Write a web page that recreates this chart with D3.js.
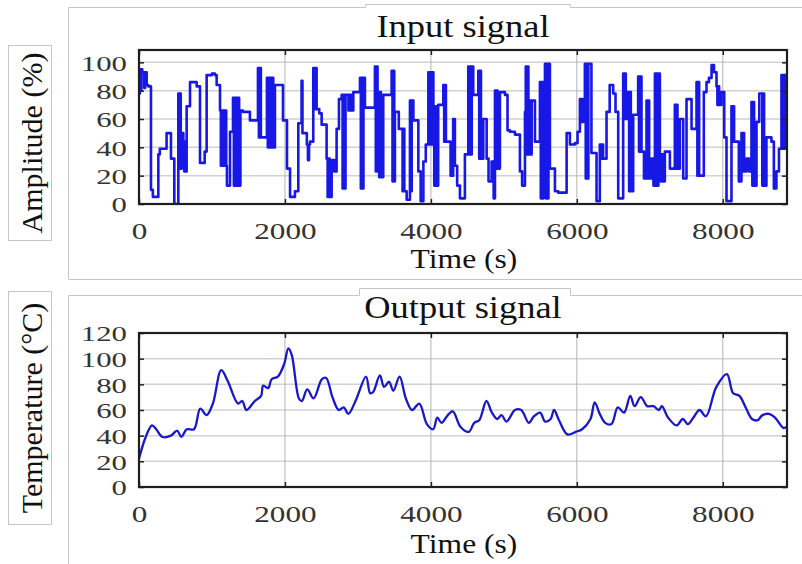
<!DOCTYPE html>
<html>
<head>
<meta charset="utf-8">
<script src="https://cdn.jsdelivr.net/npm/d3@7"></script>
<style>
  html, body { margin: 0; padding: 0; background: #fff; }
  svg { display: block; }
</style>
</head>
<body>
<div id="chart"></div>
<script>
// ---- data ----
const xTicks = [0, 2000, 4000, 6000, 8000];
const inputYTicks = [0, 20, 40, 60, 80, 100];
const outputYTicks = [0, 20, 40, 60, 80, 100, 120];

// input signal: step times (s) and amplitude (%) held until next step
const inputTimes = [0, 12, 22, 32, 45, 70, 85, 105, 128, 164, 190, 265, 285, 378, 438, 484, 539, 550, 560, 572,
  585, 608, 620, 632, 645, 653, 699, 790, 836, 900, 927, 1000, 1040, 1064, 1110, 1122, 1134, 1146, 1158, 1170,
  1182, 1195, 1205, 1247, 1288, 1300, 1312, 1324, 1336, 1348, 1360, 1372, 1390, 1425, 1520, 1630, 1643, 1656, 1670, 1753,
  1765, 1778, 1790, 1803, 1815, 1828, 1840, 1863, 1973, 2028, 2070, 2137, 2183, 2228, 2240, 2300, 2315, 2330, 2343, 2388,
  2400, 2412, 2434, 2470, 2503, 2571, 2585, 2598, 2612, 2640, 2675, 2708, 2740, 2777, 2790, 2803, 2816, 2830, 2870, 2885,
  2910, 2937, 3028, 3040, 3052, 3064, 3076, 3096, 3233, 3245, 3257, 3269, 3279, 3291, 3303, 3315, 3347, 3462, 3474, 3486,
  3498, 3507, 3560, 3612, 3624, 3636, 3668, 3713, 3725, 3737, 3760, 3828, 3860, 3897, 3930, 3965, 3977, 3990, 4002, 4015,
  4034, 4046, 4058, 4070, 4100, 4170, 4182, 4194, 4206, 4270, 4305, 4329, 4360, 4398, 4466, 4512, 4524, 4536, 4548, 4560,
  4580, 4650, 4662, 4674, 4686, 4718, 4764, 4790, 4832, 4860, 4878, 4890, 4902, 4914, 4946, 5015, 5050, 5083, 5152, 5220,
  5250, 5289, 5300, 5312, 5324, 5336, 5357, 5369, 5381, 5426, 5494, 5506, 5518, 5530, 5542, 5563, 5575, 5587, 5599, 5611,
  5631, 5700, 5745, 5860, 5905, 5974, 6010, 6042, 6054, 6066, 6078, 6110, 6122, 6134, 6146, 6158, 6200, 6270, 6315, 6330,
  6345, 6360, 6407, 6450, 6498, 6530, 6567, 6635, 6647, 6659, 6671, 6704, 6716, 6728, 6740, 6772, 6840, 6852, 6864, 6886,
  6920, 6955, 6967, 6979, 6991, 7023, 7050, 7070, 7082, 7094, 7106, 7118, 7138, 7150, 7162, 7174, 7206, 7275, 7343, 7355,
  7367, 7379, 7412, 7458, 7503, 7572, 7640, 7652, 7664, 7676, 7740, 7777, 7810, 7846, 7880, 7914, 7926, 7938, 7950, 7983,
  8020, 8051, 8119, 8131, 8143, 8155, 8220, 8256, 8268, 8280, 8292, 8325, 8360, 8393, 8405, 8417, 8429, 8462, 8500, 8542,
  8554, 8566, 8598, 8667, 8700, 8735, 8770, 8804, 8816, 8828, 8840, 8852, 8880];
const inputAmps = [78, 95, 80, 95, 93, 82, 93, 84, 83, 10, 5, 35, 39, 50, 32, 0, 78, 25, 78, 25,
  50, 44, 23, 44, 23, 69, 86, 83, 29, 37, 91, 92, 91, 84, 66, 27, 66, 27, 66, 27,
  66, 27, 13, 51, 75, 13, 75, 13, 75, 13, 75, 13, 66, 65, 59, 96, 47, 96, 47, 89,
  40, 89, 40, 89, 40, 89, 40, 84, 59, 25, 5, 9, 57, 87, 50, 42, 31, 42, 44, 96,
  67, 96, 67, 64, 56, 32, 5, 32, 5, 31, 23, 53, 74, 77, 11, 77, 11, 77, 66, 77,
  66, 79, 89, 11, 89, 11, 89, 68, 97, 23, 97, 23, 79, 19, 79, 19, 77, 94, 16, 94,
  16, 65, 53, 9, 53, 9, 3, 73, 9, 73, 59, 23, 2, 30, 42, 93, 42, 93, 42, 93,
  69, 13, 69, 13, 70, 84, 44, 84, 44, 20, 60, 27, 13, 4, 35, 97, 35, 97, 35, 97,
  77, 94, 32, 94, 32, 60, 32, 16, 30, 4, 80, 25, 80, 25, 79, 77, 52, 51, 49, 23,
  13, 65, 97, 35, 97, 35, 73, 35, 73, 44, 86, 4, 86, 4, 86, 99, 4, 99, 4, 99,
  25, 9, 8, 50, 42, 43, 51, 74, 58, 74, 58, 99, 18, 99, 18, 99, 36, 2, 42, 32,
  42, 32, 65, 84, 78, 65, 4, 92, 60, 92, 60, 79, 9, 79, 9, 63, 90, 37, 90, 37,
  18, 73, 18, 73, 18, 32, 13, 92, 13, 92, 13, 92, 35, 16, 35, 16, 37, 25, 70, 25,
  70, 25, 60, 18, 74, 53, 86, 20, 86, 20, 79, 86, 89, 98, 93, 83, 70, 83, 70, 79,
  47, 2, 69, 44, 69, 44, 16, 50, 23, 50, 23, 32, 23, 72, 13, 72, 13, 58, 78, 13,
  78, 13, 47, 44, 11, 23, 39, 91, 39, 91, 39, 91, 91];

// output signal: time (s) and temperature (°C)
const outputTimes = [0, 92, 178, 236, 322, 437, 523, 580, 655, 753, 840, 926, 1012, 1127, 1213, 1357, 1415, 1472, 1587, 1673,
  1702, 1771, 1817, 1903, 1990, 2047, 2093, 2191, 2231, 2306, 2392, 2507, 2565, 2651, 2737, 2806, 2869, 2967, 3111, 3168,
  3209, 3301, 3358, 3427, 3485, 3571, 3657, 3743, 3841, 3945, 4031, 4088, 4146, 4232, 4301, 4404, 4519, 4594, 4663, 4761,
  4836, 4910, 4968, 5037, 5152, 5238, 5342, 5411, 5497, 5566, 5641, 5687, 5756, 5871, 5986, 6072, 6187, 6245, 6314, 6388,
  6475, 6561, 6647, 6733, 6791, 6877, 6964, 7050, 7124, 7165, 7251, 7366, 7452, 7521, 7596, 7682, 7768, 7912, 8056, 8142,
  8228, 8314, 8401, 8475, 8544, 8631, 8717, 8832, 8880];
const outputTemps = [22, 39, 48, 45, 39, 40, 44, 39, 45, 45, 61, 56, 65, 91, 83, 65, 67, 60, 67, 71,
  79, 77, 84, 86, 96, 108, 103, 69, 67, 76, 69, 84, 85, 70, 60, 62, 57, 67, 86, 73,
  74, 87, 78, 82, 75, 86, 69, 60, 65, 49, 45, 54, 50, 56, 59, 47, 43, 50, 52, 67,
  58, 53, 56, 51, 60, 60, 50, 55, 58, 51, 53, 60, 52, 41, 43, 45, 53, 66, 57, 50,
  49, 62, 58, 71, 63, 70, 63, 63, 60, 63, 54, 48, 53, 49, 54, 60, 55, 78, 88, 73,
  71, 62, 53, 52, 56, 57, 54, 46, 47];

// ---- layout ----
const WIDTH = 802;
const HEIGHT = 564;
const PLOT_LEFT = 139;
const PLOT_RIGHT = 787;
const X_MAX = 8880;
const SERIF = "'Liberation Serif', 'Times New Roman', serif";
const FRAME_GRAY = "#c6c6c6";

const svg = d3.select("#chart").append("svg")
    .attr("width", WIDTH)
    .attr("height", HEIGHT);

svg.append("rect").attr("width", WIDTH).attr("height", HEIGHT).attr("fill", "#fff");

const x = d3.scaleLinear().domain([0, X_MAX]).range([PLOT_LEFT, PLOT_RIGHT]);

// text stretched horizontally like the reference
function stretchedText(g, str, px, py, size, sx, anchor, color) {
    return g.append("text")
        .attr("transform", `translate(${px},${py}) scale(${sx},1)`)
        .attr("text-anchor", anchor)
        .style("font-family", SERIF)
        .style("font-size", size + "px")
        .attr("fill", color)
        .text(str);
}

function drawPanel(cfg, id) {
    const g = svg.append("g").attr("class", "panel");
    const y = d3.scaleLinear().domain([0, cfg.yMax]).range([cfg.bottom, cfg.top]);

    // light figure frame with the raised title tab
    g.append("path")
        .attr("d", cfg.framePath)
        .attr("fill", "none")
        .attr("stroke", FRAME_GRAY)
        .attr("stroke-width", 1);

    // y label box + rotated label
    g.append("rect")
        .attr("x", 8.5).attr("y", cfg.labelBox[0])
        .attr("width", 43).attr("height", cfg.labelBox[1])
        .attr("fill", "#fff").attr("stroke", FRAME_GRAY);
    g.append("text")
        .attr("transform", `translate(42,${cfg.labelBox[0] + cfg.labelBox[1] / 2}) rotate(-90)`)
        .attr("text-anchor", "middle")
        .style("font-family", SERIF)
        .style("font-size", "30px")
        .attr("fill", "#111")
        .text(cfg.yLabel);

    // grid
    g.append("g").selectAll("line")
        .data(cfg.yTicks.filter(d => d > 0 && d < cfg.yMax))
        .join("line")
        .attr("x1", PLOT_LEFT).attr("x2", PLOT_RIGHT)
        .attr("y1", d => y(d)).attr("y2", d => y(d))
        .attr("stroke", "#d2d2d2").attr("stroke-width", 1.5);
    g.append("g").selectAll("line")
        .data(xTicks.filter(d => d > 0))
        .join("line")
        .attr("x1", d => x(d)).attr("x2", d => x(d))
        .attr("y1", cfg.top).attr("y2", cfg.bottom)
        .attr("stroke", "#b4b4b4").attr("stroke-width", 1);

    // the signal
    g.append("clipPath").attr("id", "clip" + id)
        .append("rect")
        .attr("x", PLOT_LEFT).attr("y", cfg.top)
        .attr("width", PLOT_RIGHT - PLOT_LEFT).attr("height", cfg.bottom - cfg.top);

    const line = d3.line()
        .x(i => x(cfg.times[i]))
        .y(i => y(cfg.values[i]))
        .curve(cfg.curve);

    g.append("path")
        .attr("clip-path", `url(#clip${id})`)
        .attr("d", line(d3.range(cfg.times.length)))
        .attr("fill", "none")
        .attr("stroke", cfg.color)
        .attr("stroke-width", cfg.lineWidth)
        .attr("stroke-linejoin", "round");

    // axes: ticks point inward
    const bottomAxis = g.append("g")
        .attr("transform", `translate(0,${cfg.bottom})`)
        .call(d3.axisBottom(x).tickValues(xTicks).tickFormat(d3.format("d"))
            .tickSizeInner(-5).tickSizeOuter(0));
    bottomAxis.selectAll("text")
        .attr("y", 35).attr("dy", null)
        .attr("transform", "scale(1.3,1)")
        .style("font-family", SERIF).style("font-size", "24px")
        .attr("fill", "#333");

    g.append("g")
        .attr("transform", `translate(0,${cfg.top})`)
        .call(d3.axisTop(x).tickValues(xTicks).tickSizeInner(-5).tickSizeOuter(0).tickFormat(""));

    const leftAxis = g.append("g")
        .attr("transform", `translate(${PLOT_LEFT},0)`)
        .call(d3.axisLeft(y).tickValues(cfg.yTicks).tickFormat(d3.format("d"))
            .tickSizeInner(-5).tickSizeOuter(0));
    leftAxis.selectAll("text")
        .attr("x", -12 / 1.4).attr("dy", "0.36em")
        .attr("transform", "scale(1.4,1)")
        .style("font-family", SERIF).style("font-size", "22px")
        .attr("fill", "#333");

    g.append("g")
        .attr("transform", `translate(${PLOT_RIGHT},0)`)
        .call(d3.axisRight(y).tickValues(cfg.yTicks).tickSizeInner(-5).tickSizeOuter(0).tickFormat(""));

    g.selectAll(".domain").remove();
    g.selectAll(".tick line").attr("stroke", "#222").attr("stroke-width", 1.5);

    g.append("rect")
        .attr("x", PLOT_LEFT).attr("y", cfg.top)
        .attr("width", PLOT_RIGHT - PLOT_LEFT).attr("height", cfg.bottom - cfg.top)
        .attr("fill", "none").attr("stroke", "#1e1e1e").attr("stroke-width", 2.2);

    // titles
    stretchedText(g, cfg.title, 463, cfg.titleY, 32, 1.14, "middle", "#111");
    stretchedText(g, "Time (s)", 464, cfg.xLabelY, 27, 1.17, "middle", "#111");
}

drawPanel({
    top: 50, bottom: 204, yMax: 108.7, yTicks: inputYTicks,
    times: inputTimes, values: inputAmps, curve: d3.curveStepAfter,
    color: "#1717e6", lineWidth: 2.6,
    title: "Input signal", titleY: 37, xLabelY: 268,
    yLabel: "Amplitude (%)", labelBox: [45.5, 195],
    framePath: "M68.5,279.5V7.5H365.5V4.5H570.5V7.5H802 M68.5,279.5H802"
}, "in");

drawPanel({
    top: 333, bottom: 487, yMax: 120, yTicks: outputYTicks,
    times: outputTimes, values: outputTemps, curve: d3.curveCatmullRom.alpha(0.5),
    color: "#1818c8", lineWidth: 2.3,
    title: "Output signal", titleY: 318, xLabelY: 553,
    yLabel: "Temperature (°C)", labelBox: [291.5, 233],
    framePath: "M68.5,564V295.5H359.5V288.5H570.5V295.5H802"
}, "out");
</script>
</body>
</html>
